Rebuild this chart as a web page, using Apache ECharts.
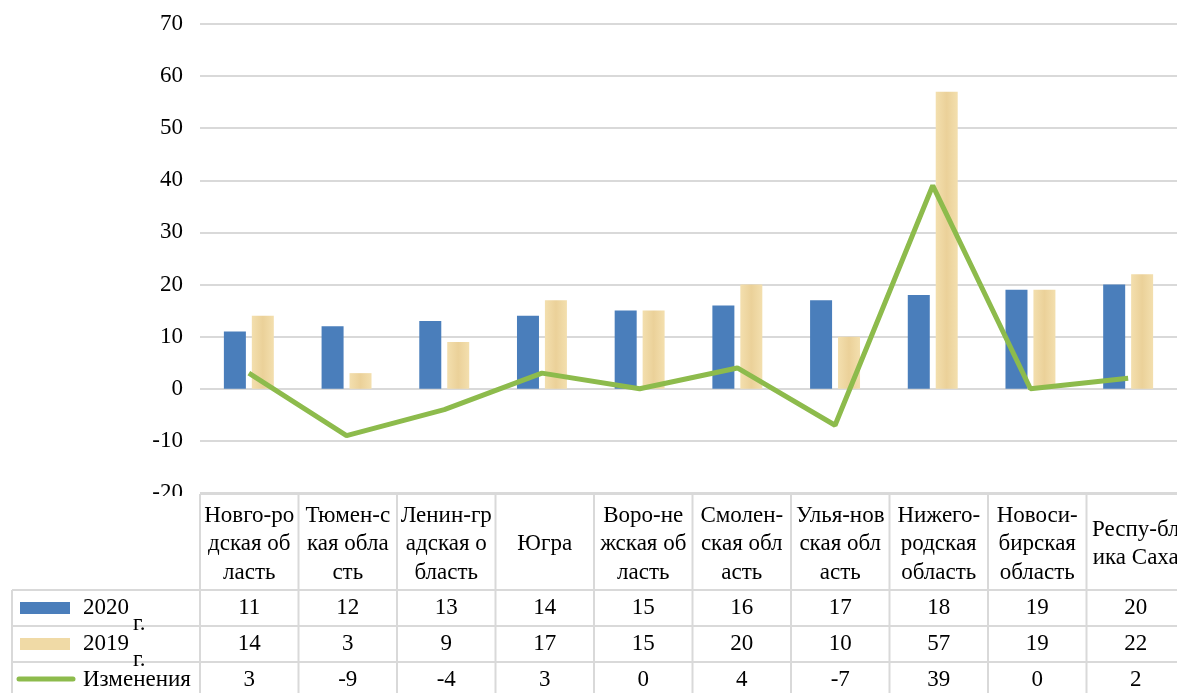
<!DOCTYPE html>
<html>
<head>
<meta charset="utf-8">
<script src="https://cdn.jsdelivr.net/npm/echarts@6/dist/echarts.min.js"></script>
<style>
html, body { margin: 0; padding: 0; background: #fff; overflow: hidden; }
#main { width: 1177px; height: 693px; }
</style>
</head>
<body>
<div id="main"></div>
<script>
// данные диаграммы
var regions = ['Новго-ро\nдская об\nласть', 'Тюмен-с\nкая обла\nсть', 'Ленин-гр\nадская о\nбласть', 'Югра',
	'Воро-не\nжская об\nласть', 'Смолен-\nская обл\nасть', 'Улья-нов\nская обл\nасть', 'Нижего-\nродская\nобласть',
	'Новоси-\nбирская\nобласть', 'Респу-бл\nика Саха'];
var values2020 = [11, 12, 13, 14, 15, 16, 17, 18, 19, 20];
var values2019 = [14, 3, 9, 17, 15, 20, 10, 57, 19, 22];
var changes = [3, -9, -4, 3, 0, 4, -7, 39, 0, 2];
var seriesNames = ['2020', '2019', 'Изменения'];
var yMin = -20, yMax = 70, yStep = 10;

var colors = ['#4a7ebb', '#f0daa6', '#8dbb4c'];
var font = '"Liberation Serif", "DejaVu Serif", serif';
var fontSize = 23;

var myChart = echarts.init(document.getElementById('main'));

// сетка таблицы
var gridLeft = 200, gridRight = -8;
var colW = (1177 - gridLeft - gridRight) / regions.length;
var tableTop = 494, headBottom = 590, rowH = 36, tableLeft = 12;
var tableRight = gridLeft + colW * regions.length;
var lineColor = '#d9d9d9';

var graphics = [];
graphics.push({
	type : 'rect', z : 100,
	shape : { x : 0, y : 496, width : 1177, height : 200 },
	style : { fill : '#fff' }
});
function hline(x1, x2, y) {
	graphics.push({ type : 'line', z : 101,
		shape : { x1 : x1, y1 : y, x2 : x2, y2 : y },
		style : { stroke : lineColor, lineWidth : 2 } });
}
function vline(x, y1, y2) {
	graphics.push({ type : 'line', z : 101,
		shape : { x1 : x, y1 : y1, x2 : x, y2 : y2 },
		style : { stroke : lineColor, lineWidth : 2 } });
}
function txt(s, x, y, align) {
	graphics.push({ type : 'text', z : 102, x : x, y : y,
		style : { text : s, font : fontSize + 'px ' + font, fill : '#000',
			align : align || 'center', verticalAlign : 'middle', lineHeight : 28.5 } });
}
hline(gridLeft, tableRight, tableTop);
for (var r = 0; r <= 3; r++) {
	hline(tableLeft, tableRight, headBottom + r * rowH);
}
vline(tableLeft, headBottom, 693);
for (var c = 0; c <= regions.length; c++) {
	vline(gridLeft + c * colW, tableTop, 693);
}
var rows = [values2020, values2019, changes];
regions.forEach(function(name, i) {
	var cx = gridLeft + (i + 0.5) * colW;
	txt(name, cx, 544);
	rows.forEach(function(arr, r) {
		txt(String(arr[i]), cx, headBottom + r * rowH + rowH / 2);
	});
});
// легенда в таблице
graphics.push({ type : 'rect', z : 102,
	shape : { x : 20, y : 602, width : 50, height : 12 }, style : { fill : colors[0] } });
graphics.push({ type : 'rect', z : 102,
	shape : { x : 20, y : 638, width : 50, height : 12 }, style : { fill : colors[1] } });
graphics.push({ type : 'line', z : 102,
	shape : { x1 : 19, y1 : 679, x2 : 73, y2 : 679 },
	style : { stroke : colors[2], lineWidth : 5, lineCap : 'round' } });
txt(seriesNames[0], 83, 608, 'left');
txt(seriesNames[1], 83, 644, 'left');
txt(seriesNames[2], 83, 680, 'left');
txt('г.', 133, 624, 'left');
txt('г.', 133, 660, 'left');

option = {
	backgroundColor : '#fff',
	animation : false,
	grid : {
		left : gridLeft,
		right : gridRight,
		top : 24,
		bottom : 693 - 493
	},
	xAxis : {
		type : 'category',
		data : regions,
		axisLine : { show : false },
		axisTick : { show : false },
		axisLabel : { show : false }
	},
	yAxis : {
		type : 'value',
		min : yMin,
		max : yMax,
		interval : yStep,
		axisLabel : {
			color : '#000',
			fontFamily : font,
			fontSize : fontSize,
			margin : 17
		},
		splitLine : { lineStyle : { color : lineColor, width : 2 } }
	},
	series : [ {
		name : seriesNames[0],
		type : 'bar',
		data : values2020,
		barWidth : 22,
		barGap : '27%',
		itemStyle : { color : colors[0] }
	}, {
		name : seriesNames[1],
		type : 'bar',
		data : values2019,
		barWidth : 22,
		itemStyle : {
			color : new echarts.graphic.LinearGradient(0, 0, 1, 0, [
				{ offset : 0, color : '#f3dfae' },
				{ offset : 0.5, color : '#ebd199' },
				{ offset : 1, color : '#f3dfae' }
			])
		}
	}, {
		name : seriesNames[2],
		type : 'line',
		data : changes,
		symbol : 'none',
		lineStyle : { color : colors[2], width : 5 },
		z : 5
	} ],
	graphic : graphics
};
myChart.setOption(option);
</script>
</body>
</html>
